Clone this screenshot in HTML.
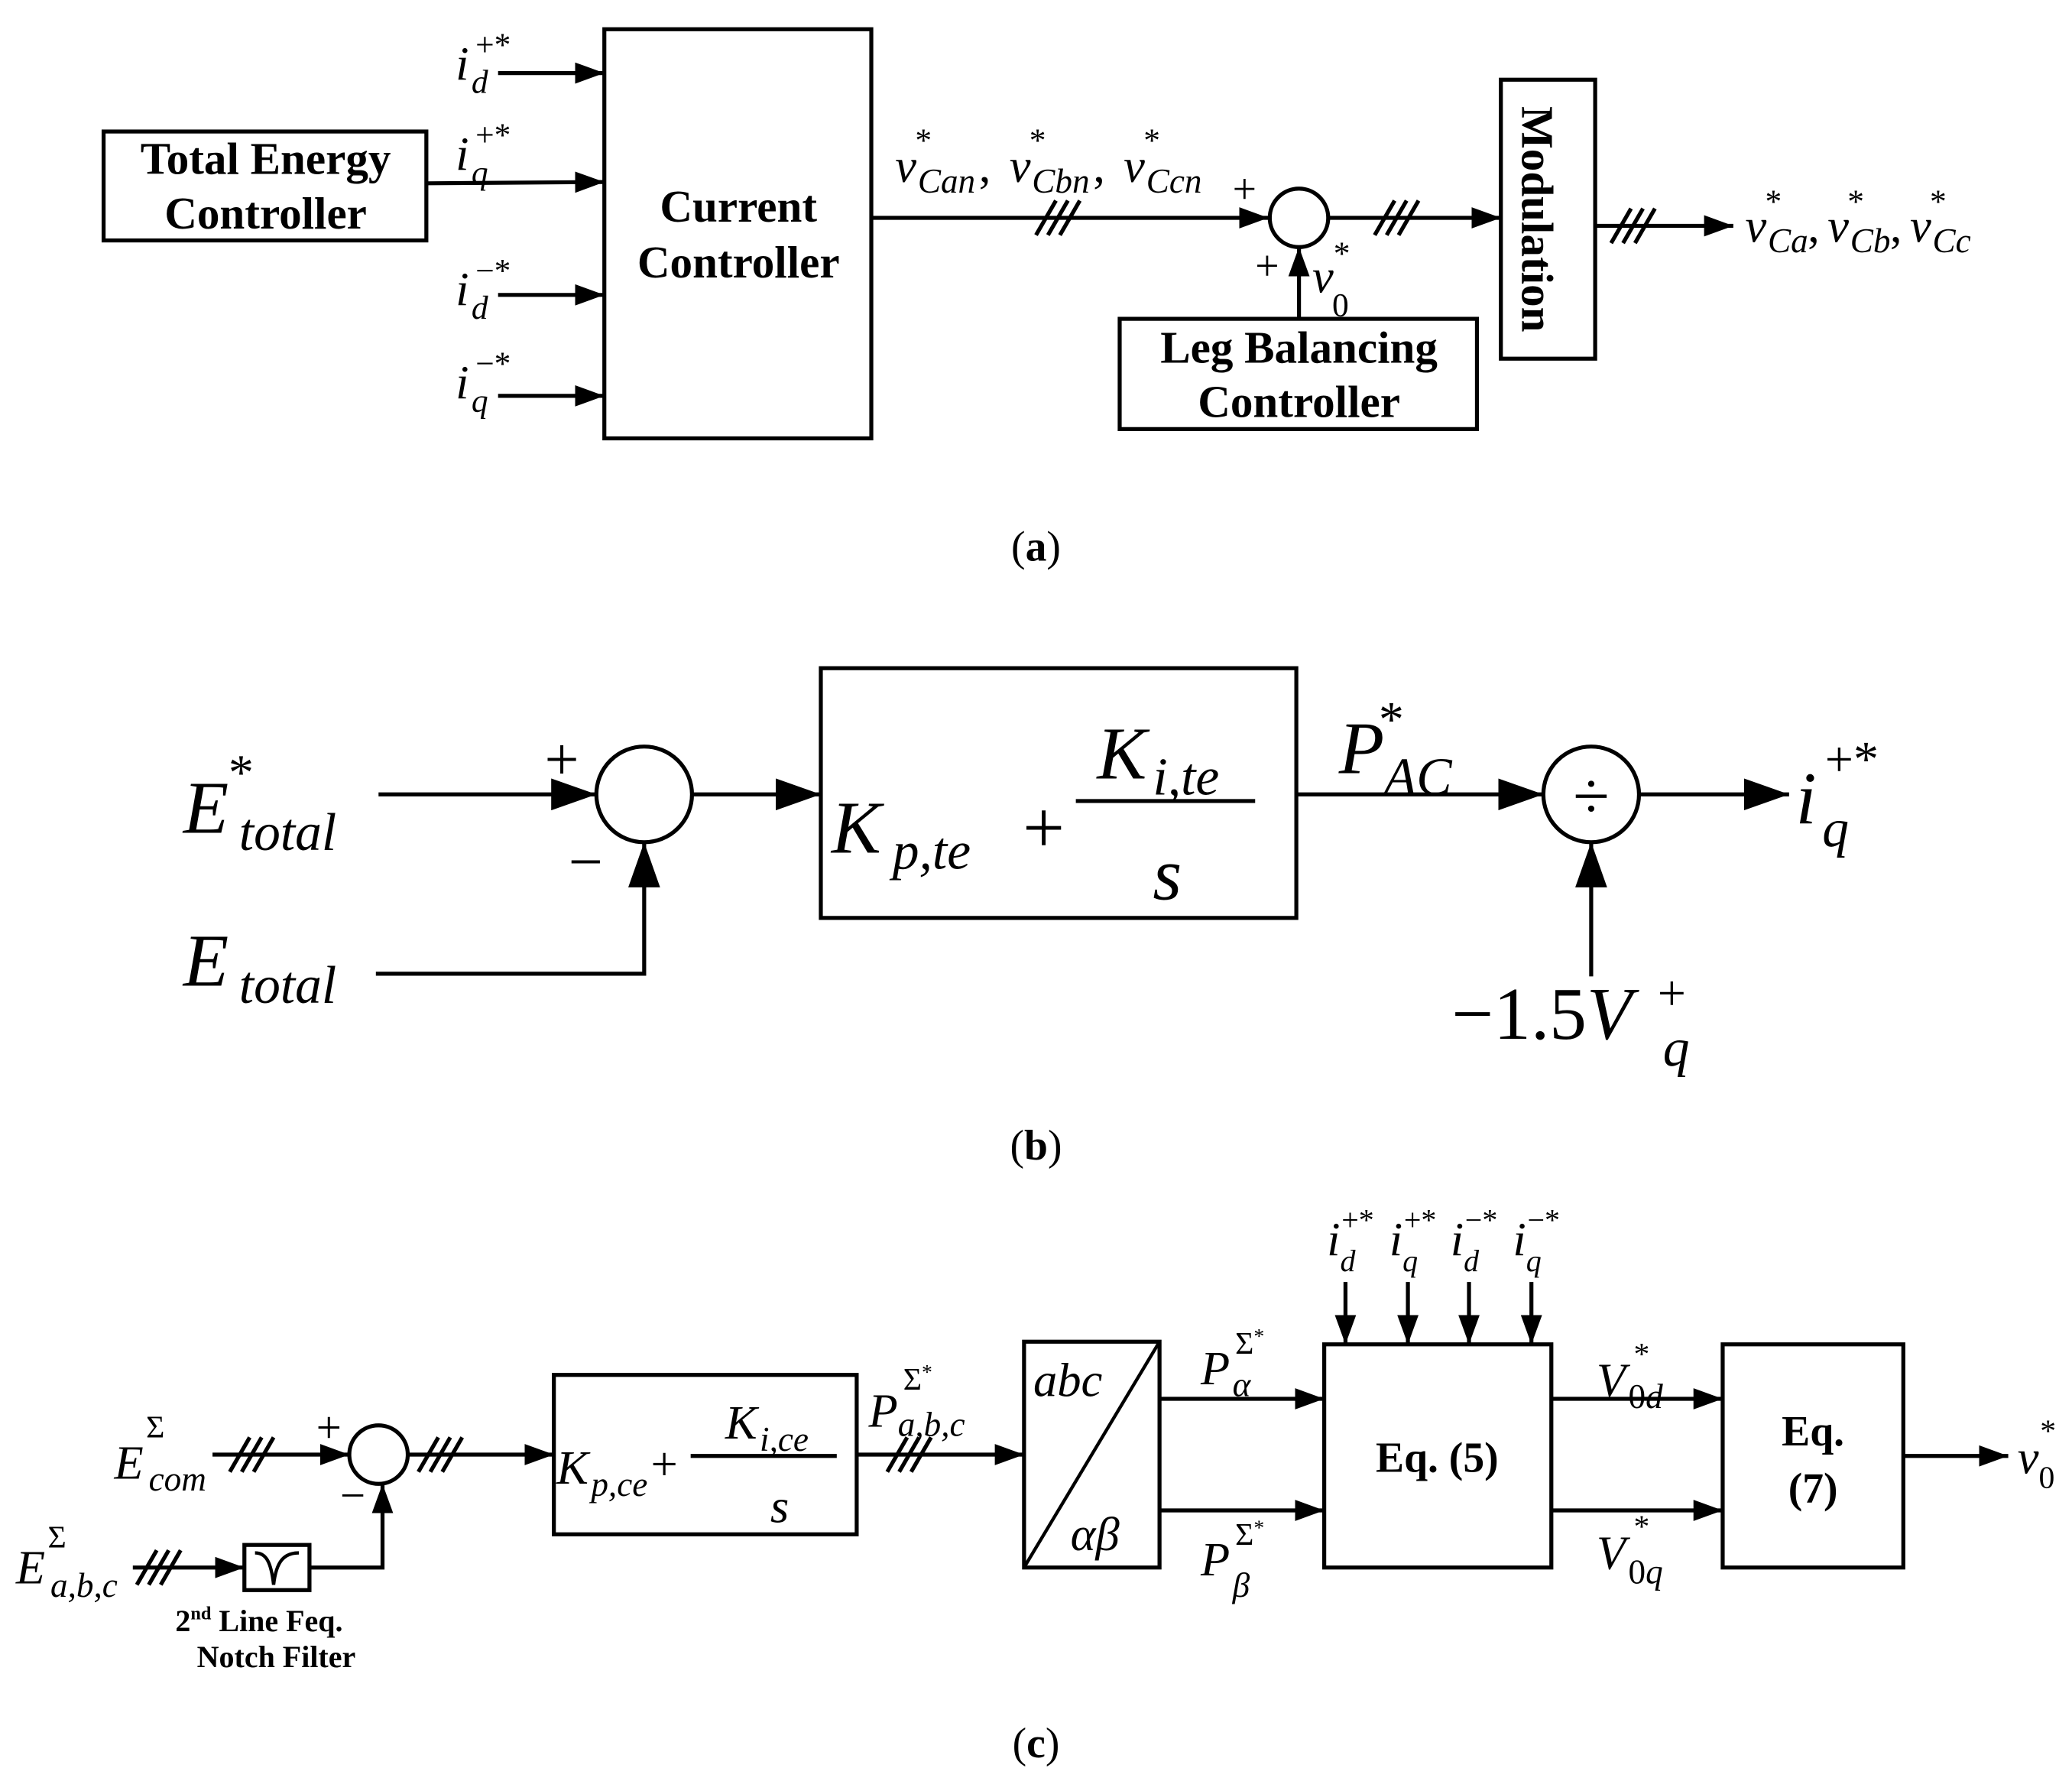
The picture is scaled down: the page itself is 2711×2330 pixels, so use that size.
<!DOCTYPE html>
<html><head><meta charset="utf-8"><style>
html,body{margin:0;padding:0;background:#fff;}
svg{display:block;}
text{font-family:"Liberation Serif",serif;fill:#000;}
.b{font-weight:bold;}
.i{font-style:italic;}
</style></head><body>
<svg width="2711" height="2330" viewBox="0 0 1560 1340.7" preserveAspectRatio="none" xmlns="http://www.w3.org/2000/svg">
<defs>
<marker id="a" markerUnits="userSpaceOnUse" markerWidth="22" markerHeight="16" refX="22" refY="8" orient="auto"><path d="M0,0L22,8L0,16z"/></marker>
<marker id="A" markerUnits="userSpaceOnUse" markerWidth="34" markerHeight="24" refX="34" refY="12" orient="auto"><path d="M0,0L34,12L0,24z"/></marker>
<g id="sl" stroke="#000" stroke-width="3"><line x1="-15" y1="13" x2="0" y2="-13"/><line x1="-6" y1="13" x2="9" y2="-13"/><line x1="3" y1="13" x2="18" y2="-13"/></g>
</defs>
<g fill="none" stroke="#000" stroke-width="3">
<!-- (a) -->
<rect x="78" y="99" width="243" height="82"/>
<rect x="455" y="22" width="201" height="308"/>
<line x1="375" y1="55" x2="455" y2="55" marker-end="url(#a)"/>
<line x1="321" y1="138" x2="455" y2="137" marker-end="url(#a)"/>
<line x1="375" y1="222" x2="455" y2="222" marker-end="url(#a)"/>
<line x1="375" y1="298" x2="455" y2="298" marker-end="url(#a)"/>
<line x1="656" y1="164" x2="955" y2="164" marker-end="url(#a)"/>
<circle cx="978" cy="164" r="22"/>
<rect x="843" y="240" width="269" height="83"/>
<line x1="978" y1="240" x2="978" y2="186" marker-end="url(#a)"/>
<line x1="1000" y1="164" x2="1130" y2="164" marker-end="url(#a)"/>
<rect x="1130" y="60" width="71" height="210"/>
<line x1="1201" y1="170" x2="1305" y2="170" marker-end="url(#a)"/>
<!-- (b) -->
<line x1="285" y1="598" x2="449" y2="598" marker-end="url(#A)"/>
<circle cx="485" cy="598" r="36"/>
<polyline points="283,733 485,733 485,634" marker-end="url(#A)"/>
<line x1="521" y1="598" x2="618" y2="598" marker-end="url(#A)"/>
<rect x="618" y="503" width="358" height="188"/>
<line x1="810" y1="603" x2="945" y2="603"/>
<line x1="976" y1="598" x2="1162" y2="598" marker-end="url(#A)"/>
<circle cx="1198" cy="598" r="36"/>
<line x1="1234" y1="598" x2="1347" y2="598" marker-end="url(#A)"/>
<line x1="1198" y1="735" x2="1198" y2="634" marker-end="url(#A)"/>
<!-- (c) -->
<line x1="160" y1="1095" x2="263" y2="1095" marker-end="url(#a)"/>
<circle cx="285" cy="1095" r="22"/>
<line x1="100" y1="1180" x2="184" y2="1180" marker-end="url(#a)"/>
<rect x="184" y="1163" width="49" height="34"/>
<polyline points="233,1180 288,1180 288,1117" marker-end="url(#a)"/>
<line x1="307" y1="1095" x2="417" y2="1095" marker-end="url(#a)"/>
<rect x="417" y="1035" width="228" height="120"/>
<line x1="520" y1="1096" x2="630" y2="1096"/>
<line x1="645" y1="1095" x2="771" y2="1095" marker-end="url(#a)"/>
<rect x="771" y="1010" width="102" height="170"/>
<line x1="771" y1="1180" x2="873" y2="1010" stroke-width="2.5"/>
<line x1="873" y1="1053" x2="997" y2="1053" marker-end="url(#a)"/>
<line x1="873" y1="1137" x2="997" y2="1137" marker-end="url(#a)"/>
<rect x="997" y="1012" width="171" height="168"/>
<line x1="1013" y1="965" x2="1013" y2="1012" marker-end="url(#a)"/>
<line x1="1060" y1="965" x2="1060" y2="1012" marker-end="url(#a)"/>
<line x1="1106" y1="965" x2="1106" y2="1012" marker-end="url(#a)"/>
<line x1="1153" y1="965" x2="1153" y2="1012" marker-end="url(#a)"/>
<line x1="1168" y1="1053" x2="1297" y2="1053" marker-end="url(#a)"/>
<line x1="1168" y1="1137" x2="1297" y2="1137" marker-end="url(#a)"/>
<rect x="1297" y="1012" width="136" height="168"/>
<line x1="1433" y1="1096" x2="1512" y2="1096" marker-end="url(#a)"/>
<path d="M192,1169 C200,1169 204,1175 206,1193 C208,1175 214,1169 225,1169" stroke-width="2.5"/>
</g>
<use href="#sl" x="795" y="164"/>
<use href="#sl" x="1050" y="164"/>
<use href="#sl" x="1228" y="170"/>
<use href="#sl" x="188" y="1095"/>
<use href="#sl" x="118" y="1180"/>
<use href="#sl" x="330" y="1095"/>
<use href="#sl" x="683" y="1095"/>

<!-- (a) text -->
<text class="b" x="200" y="131" font-size="34" text-anchor="middle">Total Energy</text>
<text class="b" x="200" y="172" font-size="34" text-anchor="middle">Controller</text>
<text class="b" x="556" y="167" font-size="34" text-anchor="middle">Current</text>
<text class="b" x="556" y="209" font-size="34" text-anchor="middle">Controller</text>
<text class="b" x="978" y="273" font-size="34" text-anchor="middle">Leg Balancing</text>
<text class="b" x="978" y="314" font-size="34" text-anchor="middle">Controller</text>
<text class="b" x="1157" y="165" font-size="34" text-anchor="middle" transform="rotate(90 1157 165)" dy="11">Modulation</text>
<g font-size="36">
<text class="i" x="343" y="60">i</text><text x="358" y="42" font-size="25">+*</text><text class="i" x="355" y="70" font-size="25">d</text>
<text class="i" x="343" y="128">i</text><text x="358" y="110" font-size="25">+*</text><text class="i" x="355" y="138" font-size="25">q</text>
<text class="i" x="343" y="230">i</text><text x="358" y="212" font-size="25">−*</text><text class="i" x="355" y="240" font-size="25">d</text>
<text class="i" x="343" y="300">i</text><text x="358" y="282" font-size="25">−*</text><text class="i" x="355" y="310" font-size="25">q</text>
<text class="i" x="674" y="137">v</text><text x="689" y="114" font-size="25">*</text><text class="i" x="691" y="145" font-size="26">Can</text><text x="737" y="137">,</text>
<text class="i" x="760" y="137">v</text><text x="775" y="114" font-size="25">*</text><text class="i" x="777" y="145" font-size="26">Cbn</text><text x="823" y="137">,</text>
<text class="i" x="846" y="137">v</text><text x="861" y="114" font-size="25">*</text><text class="i" x="863" y="145" font-size="26">Ccn</text>
<text x="928" y="153" font-size="32">+</text><text x="945" y="211" font-size="32">+</text>
<text class="i" x="988" y="220">v</text><text x="1004" y="199" font-size="25">*</text><text x="1003" y="238" font-size="25">0</text>
<text class="i" x="1314" y="182">v</text><text x="1329" y="160" font-size="25">*</text><text class="i" x="1331" y="190" font-size="26">Ca</text><text x="1361" y="182">,</text>
<text class="i" x="1376" y="182">v</text><text x="1391" y="160" font-size="25">*</text><text class="i" x="1393" y="190" font-size="26">Cb</text><text x="1423" y="182">,</text>
<text class="i" x="1438" y="182">v</text><text x="1453" y="160" font-size="25">*</text><text class="i" x="1455" y="190" font-size="26">Cc</text>
<text x="780" y="422" text-anchor="middle" font-size="32">(<tspan class="b">a</tspan>)</text>
</g>
<!-- (b) text -->
<g font-size="56">
<text class="i" x="138" y="627">E</text><text x="172" y="594" font-size="38">*</text><text class="i" x="180" y="640" font-size="40">total</text>
<text class="i" x="138" y="742">E</text><text class="i" x="180" y="755" font-size="40">total</text>
<text x="410" y="587" font-size="46">+</text><text x="428" y="664" font-size="46">−</text>
<text class="i" x="626" y="642">K</text><text class="i" x="672" y="654" font-size="40">p,te</text><text x="770" y="642">+</text>
<text class="i" x="826" y="586">K</text><text class="i" x="868" y="598" font-size="40">i,te</text>
<text class="i" x="868" y="677">s</text>
<text class="i" x="1008" y="582">P</text><text x="1038" y="554" font-size="38">*</text><text class="i" x="1042" y="598" font-size="40">AC</text>
<text x="1198" y="616" text-anchor="middle" font-size="50">÷</text>
<text class="i" x="1352" y="620">i</text><text x="1374" y="584" font-size="38">+*</text><text class="i" x="1372" y="637" font-size="40">q</text>
<text x="1093" y="782">−1.5<tspan class="i">V</tspan></text><text x="1248" y="760" font-size="38">+</text><text class="i" x="1252" y="802" font-size="40">q</text>
<text x="780" y="873" text-anchor="middle" font-size="32">(<tspan class="b">b</tspan>)</text>
</g>
<!-- (c) text -->
<g font-size="36">
<text class="i" x="86" y="1113">E</text><text x="110" y="1082" font-size="24">Σ</text><text class="i" x="112" y="1122" font-size="26">com</text>
<text class="i" x="12" y="1192">E</text><text x="36" y="1165" font-size="24">Σ</text><text class="i" x="38" y="1202" font-size="26">a,b,c</text>
<text x="238" y="1086" font-size="34">+</text><text x="256" y="1137" font-size="34">−</text>
<text class="b" x="132" y="1228" font-size="23">2<tspan font-size="14" dy="-9">nd</tspan><tspan dy="9"> Line Feq.</tspan></text>
<text class="b" x="208" y="1255" font-size="23" text-anchor="middle">Notch Filter</text>
<text class="i" x="419" y="1117">K</text><text class="i" x="445" y="1126" font-size="26">p,ce</text><text x="490" y="1114">+</text>
<text class="i" x="546" y="1083">K</text><text class="i" x="572" y="1092" font-size="26">i,ce</text>
<text class="i" x="580" y="1146">s</text>
<text class="i" x="654" y="1074">P</text><text x="680" y="1046" font-size="24">Σ<tspan font-size="16" dy="-8">*</tspan></text><text class="i" x="676" y="1081" font-size="26">a,b,c</text>
<text class="i" x="778" y="1051">abc</text>
<text class="i" x="806" y="1167">αβ</text>
<text class="i" x="904" y="1042">P</text><text x="930" y="1019" font-size="24">Σ<tspan font-size="16" dy="-8">*</tspan></text><text class="i" x="928" y="1051" font-size="26">α</text>
<text class="i" x="904" y="1186">P</text><text x="930" y="1163" font-size="24">Σ<tspan font-size="16" dy="-8">*</tspan></text><text class="i" x="928" y="1202" font-size="26">β</text>
<text class="b" x="1082" y="1108" text-anchor="middle" font-size="32">Eq. (5)</text>
<text class="b" x="1365" y="1088" text-anchor="middle" font-size="32">Eq.</text>
<text class="b" x="1365" y="1131" text-anchor="middle" font-size="32">(7)</text>
<text class="i" x="999" y="945">i</text><text x="1010" y="926" font-size="23">+*</text><text class="i" x="1009" y="957" font-size="23">d</text>
<text class="i" x="1046" y="945">i</text><text x="1057" y="926" font-size="23">+*</text><text class="i" x="1056" y="957" font-size="23">q</text>
<text class="i" x="1092" y="945">i</text><text x="1103" y="926" font-size="23">−*</text><text class="i" x="1102" y="957" font-size="23">d</text>
<text class="i" x="1139" y="945">i</text><text x="1150" y="926" font-size="23">−*</text><text class="i" x="1149" y="957" font-size="23">q</text>
<text class="i" x="1202" y="1051">V</text><text x="1230" y="1027" font-size="24">*</text><text x="1226" y="1060" font-size="26">0<tspan class="i">d</tspan></text>
<text class="i" x="1202" y="1181">V</text><text x="1230" y="1157" font-size="24">*</text><text x="1226" y="1192" font-size="26">0<tspan class="i">q</tspan></text>
<text class="i" x="1519" y="1109">v</text><text x="1536" y="1085" font-size="24">*</text><text x="1535" y="1120" font-size="24">0</text>
<text x="780" y="1323" text-anchor="middle" font-size="32">(<tspan class="b">c</tspan>)</text>
</g>
</svg>
</body></html>
